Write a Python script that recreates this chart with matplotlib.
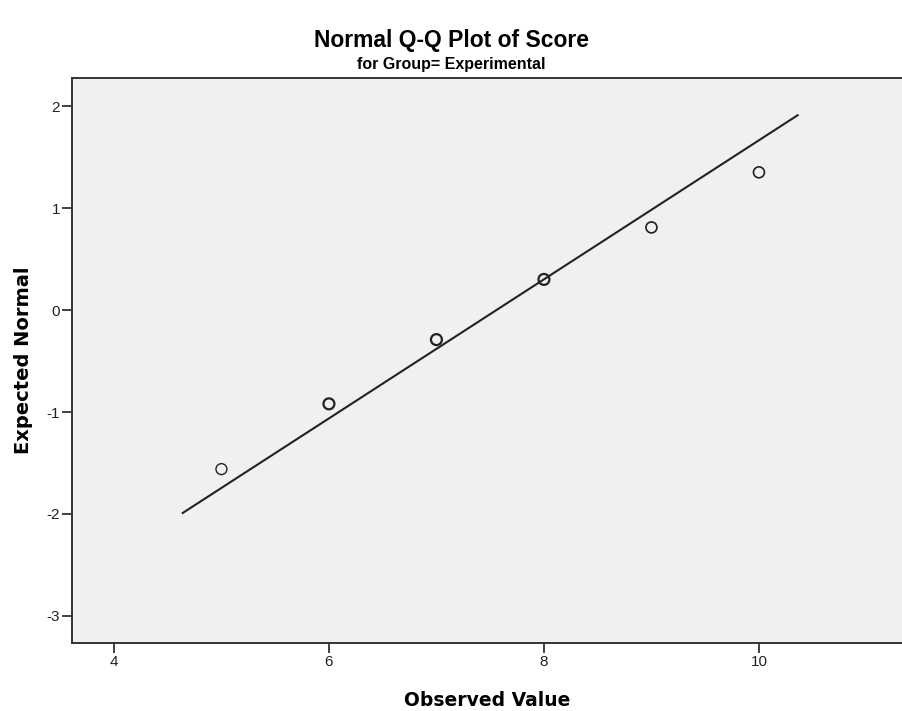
import numpy as np
import matplotlib.pyplot as plt

plt.rcParams["axes.unicode_minus"] = False

observed = [5, 6, 7, 8, 9, 10]
expected = [-1.56, -0.92, -0.29, 0.30, 0.81, 1.35]
# repeated cases draw darker circles
edge_w = [1.0, 1.6, 1.6, 1.6, 1.2, 1.2]

# reference line endpoints
line_x = [4.64, 10.36]
line_y = [-1.99, 1.91]

x_ticks = [4, 6, 8, 10]
y_ticks = [-3, -2, -1, 0, 1, 2]

fig = plt.figure(figsize=(9.03, 7.11), dpi=100)
ax = fig.add_axes([72/903, 1 - 643/711, 1 - 72/903, (643 - 78)/711])
ax.set_facecolor("#f0f0f0")

ax.plot(line_x, line_y, color="#222222", lw=1.5, zorder=2)
for xo, yo, w in zip(observed, expected, edge_w):
    ax.scatter(xo, yo, s=62, facecolors="none", edgecolors="#222222",
               linewidths=w, zorder=3)

ax.set_xlim(3.61, 11.34)
ax.set_ylim(-3.265, 2.275)
ax.set_xticks(x_ticks)
ax.set_yticks(y_ticks)
ax.tick_params(length=7, width=1.3, color="#333333", labelsize=11,
               labelcolor="#222222", pad=1.5)
for lab in ax.get_xticklabels() + ax.get_yticklabels():
    lab.set_family("Liberation Sans")

ax.spines["right"].set_visible(False)
for s in ["left", "top", "bottom"]:
    ax.spines[s].set_color("#333333")
    ax.spines[s].set_linewidth(1.4)

ax.set_xlabel("Observed Value", fontsize=13.5, fontweight="bold",
              family="DejaVu Sans", labelpad=16)
ax.set_ylabel("Expected Normal", fontsize=14, fontweight="bold",
              family="DejaVu Sans", labelpad=10)

fig.text(0.5, 1 - 40/711, "Normal Q-Q Plot of Score", ha="center",
         va="center", fontsize=16.5, fontweight="bold", family="Liberation Sans")
fig.text(0.5, 1 - 64/711, "for Group= Experimental", ha="center",
         va="center", fontsize=11.5, fontweight="bold", family="Liberation Sans")

plt.savefig("out.png", dpi=100)
